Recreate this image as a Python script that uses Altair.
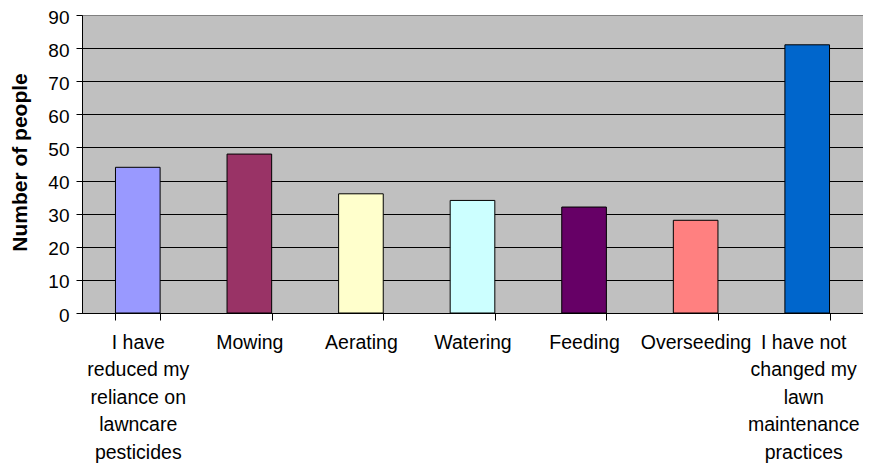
import altair as alt
import pandas as pd

categories = [
    "I have\nreduced my\nreliance on\nlawncare\npesticides",
    "Mowing",
    "Aerating",
    "Watering",
    "Feeding",
    "Overseeding",
    "I have not\nchanged my\nlawn\nmaintenance\npractices",
]
values = [44, 48, 36, 34, 32, 28, 81]
colors = ["#9999FF", "#993366", "#FFFFCC", "#CCFFFF", "#660066", "#FF8080", "#0066CC"]
y_ticks = [0, 10, 20, 30, 40, 50, 60, 70, 80, 90]

df = pd.DataFrame({"cat": categories, "val": values, "color": colors})

FONT = "Liberation Sans"

chart = alt.Chart(df).mark_bar(stroke="black", strokeWidth=1).encode(
    x=alt.X(
        "cat:N",
        sort=categories,
        scale=alt.Scale(paddingInner=0.6, paddingOuter=0.3),
        axis=alt.Axis(
            title=None,
            labelAngle=0,
            labelExpr="isValid(datum.value) ? split(datum.value, '\\n') : ''",
            labelLineHeight=27.5,
            labelFont=FONT,
            labelFontSize=19.5,
            labelColor="black",
            labelAlign="center",
            labelBaseline="top",
            labelPadding=13,
            labelLimit=300,
            labelOffset={
                "condition": {
                    "test": "isValid(datum.value) && indexof(datum.value, 'maintenance') >= 0",
                    "value": -4,
                },
                "value": 0,
            },
            domainColor="black",
            tickColor="black",
            tickSize=7,
            tickBand="extent",
            grid=False,
        ),
    ),
    y=alt.Y(
        "val:Q",
        scale=alt.Scale(domain=[0, 90], nice=False),
        axis=alt.Axis(
            title="Number of people",
            values=y_ticks,
            labelFont=FONT,
            labelFontSize=19,
            labelColor="black",
            labelPadding=7,
            labelBaseline="alphabetic",
            labelOffset=8,
            titleFont=FONT,
            titleFontSize=21,
            titleFontWeight="bold",
            titleColor="black",
            titleX=-62,
            titleY=147,
            titleAngle=-90,
            titleAlign="center",
            titleBaseline="middle",
            domainColor="black",
            tickColor="black",
            tickSize=6,
            grid=True,
            gridColor={"condition": {"test": "datum.value >= 90", "value": "#808080"}, "value": "black"},
            gridWidth=1,
            gridOpacity=1,
        ),
    ),
    color=alt.Color("color:N", scale=None, legend=None),
).properties(
    width=781,
    height=298,
    autosize=alt.AutoSizeParams(type="none"),
    padding={"left": 74, "top": 7, "right": 0, "bottom": 150},
    background="white",
).configure_view(
    fill="#C0C0C0",
    stroke="#808080",
    strokeWidth=1,
)

chart.save("out.html", embed_options={"renderer": "svg", "actions": False})
